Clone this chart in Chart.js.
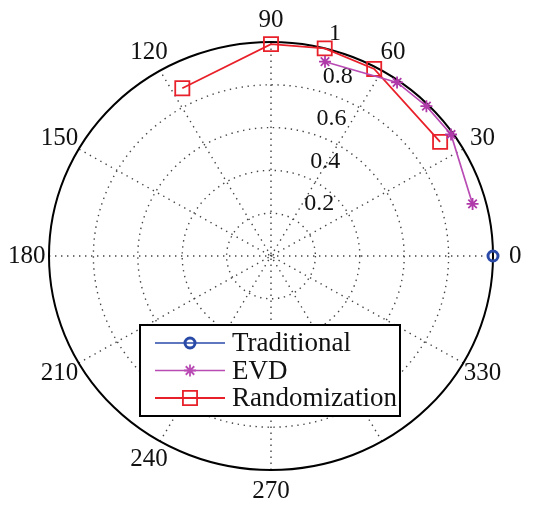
<!DOCTYPE html>
<html>
<head>
<meta charset="utf-8">
<script src="https://cdn.jsdelivr.net/npm/chart.js@4/dist/chart.umd.min.js"></script>
<style>
  html, body { margin: 0; padding: 0; background: #fff; }
  #wrap { width: 534px; height: 508px; }
</style>
</head>
<body>
<div id="wrap"><canvas id="chart" width="534" height="508"></canvas></div>
<script>
// polar data: angle in degrees, radius
const seriesNames = ["Traditional", "EVD", "Randomization"];
const traditionalAngles = [0];
const traditionalRadii = [1.0];
const evdAngles = [75, 55, 45, 35, 15];
const evdRadii = [0.94, 0.99, 0.99, 0.99, 0.94];
const randAngles = [117, 90, 76, 62, 35];
const randRadii = [0.88, 0.99, 1.0, 0.99, 0.93];

const angleTicks = ["0", "30", "60", "90", "120", "150", "180", "210", "240", "270", "", "330"];
const radialTicks = [0.2, 0.4, 0.6, 0.8, 1];
const radialLabels = ["0.2", "0.4", "0.6", "0.8", "1"];

const serif = "'Liberation Serif', 'DejaVu Serif', serif";

function toXY(angles, radii) {
    return angles.map((a, i) => {
        const t = a * Math.PI / 180;
        return { x: radii[i] * Math.cos(t), y: radii[i] * Math.sin(t) };
    });
}

const polarGrid = {
    id: "polarGrid",
    beforeDatasetsDraw(chart) {
        const ctx = chart.ctx;
        const xs = chart.scales.x, ys = chart.scales.y;
        const cx = xs.getPixelForValue(0), cy = ys.getPixelForValue(0);
        const rx = xs.getPixelForValue(1) - cx, ry = cy - ys.getPixelForValue(1);
        ctx.save();
        // dotted rings
        ctx.strokeStyle = "#444";
        ctx.lineWidth = 1.4;
        ctx.setLineDash([1.4, 4.6]);
        radialTicks.slice(0, -1).forEach(r => {
            ctx.beginPath();
            ctx.ellipse(cx, cy, rx * r, ry * r, 0, 0, Math.PI * 2);
            ctx.stroke();
        });
        // dotted spokes
        for (let a = 0; a < 180; a += 30) {
            const t = a * Math.PI / 180;
            ctx.beginPath();
            ctx.moveTo(xs.getPixelForValue(-Math.cos(t)), ys.getPixelForValue(-Math.sin(t)));
            ctx.lineTo(xs.getPixelForValue(Math.cos(t)), ys.getPixelForValue(Math.sin(t)));
            ctx.stroke();
        }
        // outer circle
        ctx.setLineDash([]);
        ctx.strokeStyle = "#000";
        ctx.lineWidth = 2;
        ctx.beginPath();
        ctx.ellipse(cx, cy, rx, ry, 0, 0, Math.PI * 2);
        ctx.stroke();

        // angle labels
        ctx.fillStyle = "#111";
        ctx.font = "25px " + serif;
        ctx.textAlign = "center";
        ctx.textBaseline = "middle";
        angleTicks.forEach((lab, i) => {
            if (!lab) return;
            const t = i * 30 * Math.PI / 180;
            ctx.fillText(lab, xs.getPixelForValue(1.1 * Math.cos(t)), ys.getPixelForValue(1.1 * Math.sin(t)));
        });

        // radial labels along 82 degrees
        ctx.font = "24px " + serif;
        ctx.textAlign = "left";
        ctx.textBaseline = "bottom";
        const t82 = 82 * Math.PI / 180;
        radialTicks.forEach((r, i) => {
            const px = xs.getPixelForValue(r * Math.cos(t82));
            const py = ys.getPixelForValue(r * Math.sin(t82));
            ctx.fillText(radialLabels[i], px + 27, py + 2);
        });
        ctx.restore();
    },
    afterDatasetsDraw(chart) {
        const ctx = chart.ctx;
        ctx.save();
        const bx = 140, by = 325, bw = 260, bh = 91;
        ctx.fillStyle = "#fff";
        ctx.fillRect(bx, by, bw, bh);
        ctx.strokeStyle = "#000";
        ctx.lineWidth = 2;
        ctx.strokeRect(bx, by, bw, bh);
        ctx.font = "27px " + serif;
        ctx.textAlign = "left";
        ctx.textBaseline = "middle";
        chart.data.datasets.forEach((ds, i) => {
            const y = by + 18 + i * 27.5;
            ctx.strokeStyle = ds.borderColor;
            ctx.lineWidth = ds.borderWidth;
            ctx.beginPath();
            ctx.moveTo(155, y);
            ctx.lineTo(225, y);
            ctx.stroke();
            ctx.fillStyle = "rgba(0,0,0,0)";
            ctx.lineWidth = ds.pointBorderWidth;
            Chart.helpers.drawPoint(ctx, {
                pointStyle: ds.pointStyle,
                radius: ds.pointRadius,
                borderWidth: ds.pointBorderWidth,
                rotation: 0
            }, 190, y);
            ctx.fillStyle = "#111";
            ctx.fillText(ds.label, 232, y + 1);
        });
        ctx.restore();
    }
};

const ctx = document.getElementById("chart").getContext("2d");
const chart = new Chart(ctx, {
    type: "scatter",
    data: {
        datasets: [
            {
                label: seriesNames[0],
                data: toXY(traditionalAngles, traditionalRadii),
                borderColor: "#2a4aa8",
                pointBorderColor: "#2a4aa8",
                backgroundColor: "rgba(0,0,0,0)",
                borderWidth: 1.6,
                pointStyle: "circle",
                pointRadius: 5,
                pointBorderWidth: 3,
                showLine: true,
                clip: false
            },
            {
                label: seriesNames[1],
                data: toXY(evdAngles, evdRadii),
                borderColor: "#b94cb4",
                pointBorderColor: "#b03aaa",
                backgroundColor: "#b94cb4",
                borderWidth: 1.7,
                pointStyle: "star",
                pointRadius: 6,
                pointBorderWidth: 1.8,
                showLine: true,
                clip: false
            },
            {
                label: seriesNames[2],
                data: toXY(randAngles, randRadii),
                borderColor: "#e8202a",
                pointBorderColor: "#e8202a",
                backgroundColor: "rgba(0,0,0,0)",
                borderWidth: 1.8,
                pointStyle: "rect",
                pointRadius: 10,
                pointBorderWidth: 1.8,
                showLine: true,
                clip: false
            }
        ]
    },
    options: {
        responsive: false,
        animation: false,
        layout: { padding: { left: 49, right: 41, top: 42, bottom: 38 } },
        scales: {
            x: { type: "linear", min: -1, max: 1, display: false },
            y: { type: "linear", min: -1, max: 1, display: false }
        },
        plugins: {
            legend: { display: false },
            tooltip: { enabled: false }
        }
    },
    plugins: [polarGrid]
});
</script>
</body>
</html>
